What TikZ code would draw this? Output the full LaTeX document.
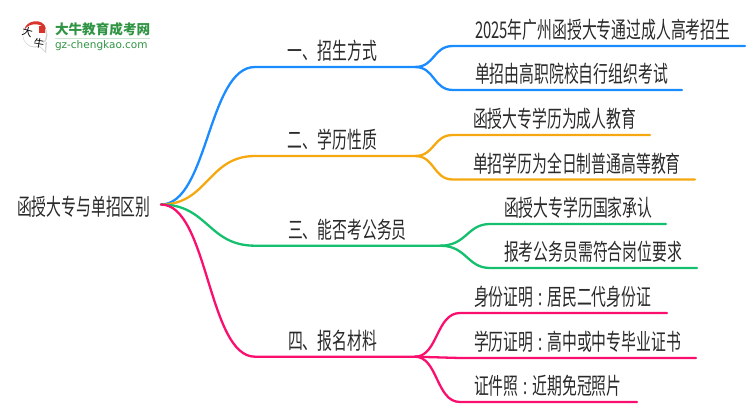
\documentclass[tikz,border=0pt]{standalone}
\usepackage{fontspec}
\newfontfamily\cjk[FakeStretch=0.645]{Noto Sans CJK SC}
\newfontfamily\cjklogo{Noto Sans CJK SC}
\newfontfamily\latinlogo{DejaVu Sans}
\definecolor{cblue}{HTML}{1A8CFF}
\definecolor{corange}{HTML}{F5A80F}
\definecolor{cgreen}{HTML}{14C06E}
\definecolor{cpink}{HTML}{FA0F6E}
\definecolor{ctext}{HTML}{2A2A2A}
\definecolor{logogreen}{HTML}{2F9443}
\definecolor{logored}{HTML}{D8342C}
\newcommand{\cln}{\hspace{5pt}:\hspace{5pt}}
\tikzset{
  lab/.style={inner xsep=0pt,inner ysep=5.5pt,outer sep=0pt,font=\cjk\fontsize{23}{25}\selectfont,text=ctext,anchor=south west,align=left},
  conn/.style={line width=2.3pt,line cap=round,line join=round},
  logot/.style={inner sep=0pt,outer sep=0pt}
}
\begin{document}
\begin{tikzpicture}[x=1pt,y=-1pt]
\useasboundingbox (0,0) rectangle (750,410);
% root
\node[lab,anchor=west,inner ysep=0pt,text width=144pt] (root) at (17,207) {函授大专与单招区别};
\coordinate (hub) at (161,204.5);
% branches
\node[lab,text width=160pt,align=center] (b1) at (255,67) {\hspace*{-5pt}一、招生方式};
\node[lab,text width=160pt,align=center] (b2) at (255,156) {\hspace*{-5pt}二、学历性质};
\node[lab,text width=185pt,align=left] (b3) at (255,245.7) {\hspace*{33pt}三、能否考公务员};
\node[lab,text width=160pt,align=left] (b4) at (255,356.7) {\hspace*{33pt}四、报名材料};
% leaves
\node[lab,text width=292pt] (l11) at (453,46) {\hspace*{22pt}2025年广州函授大专通过成人高考招生};
\node[lab,text width=229pt] (l12) at (453,90) {\hspace*{22pt}单招由高职院校自行组织考试};
\node[lab,text width=197pt] (l21) at (453,135) {\hspace*{20pt}函授大专学历为成人教育};
\node[lab,text width=242pt] (l22) at (453,179.5) {\hspace*{20pt}单招学历为全日制普通高等教育};
\node[lab,text width=176pt] (l31) at (490,224) {\hspace*{14pt}函授大专学历国家承认};
\node[lab,text width=207pt] (l32) at (490,268) {\hspace*{14pt}报考公务员需符合岗位要求};
\node[lab,text width=207pt] (l41) at (460,313) {\hspace*{14pt}身份证明\cln 居民二代身份证};
\node[lab,text width=236pt] (l42) at (460,358) {\hspace*{14pt}学历证明\cln 高中或中专毕业证书};
\node[lab,text width=177pt] (l43) at (460,402) {\hspace*{14pt}证件照\cln 近期免冠照片};
% connectors root -> branches
\draw[conn,cblue] (hub) .. controls (208,204.5) and (208,67) .. (b1.south west) -- (b1.south east);
\draw[conn,corange] (hub) .. controls (208,204.5) and (208,156) .. (b2.south west) -- (b2.south east);
\draw[conn,cgreen] (hub) .. controls (208,204.5) and (208,245.7) .. (b3.south west) -- (b3.south east);
\draw[conn,cpink] (hub) .. controls (208,204.5) and (208,356.7) .. (b4.south west) -- (b4.south east);
% branch -> leaves
\draw[conn,cblue] (b1.south east) .. controls (435,67) and (433,46) .. (l11.south west) -- (l11.south east);
\draw[conn,cblue] (b1.south east) .. controls (435,67) and (433,90) .. (l12.south west) -- (l12.south east);
\draw[conn,corange] (b2.south east) .. controls (435,156) and (433,135) .. (l21.south west) -- (l21.south east);
\draw[conn,corange] (b2.south east) .. controls (435,156) and (433,179.5) .. (l22.south west) -- (l22.south east);
\draw[conn,cgreen] (b3.south east) .. controls (467,245.7) and (467,224) .. (l31.south west) -- (l31.south east);
\draw[conn,cgreen] (b3.south east) .. controls (467,245.7) and (467,268) .. (l32.south west) -- (l32.south east);
\draw[conn,cpink] (b4.south east) .. controls (438,356.7) and (436,313) .. (l41.south west) -- (l41.south east);
\draw[conn,cpink] (b4.south east) -- (l42.south west) -- (l42.south east);
\draw[conn,cpink] (b4.south east) .. controls (438,356.7) and (436,402) .. (l43.south west) -- (l43.south east);
% logo
\fill[black!18] (35,35) circle (12.5pt);
\fill[black!18] (38,45) -- (46,53) -- (47,42) -- cycle;
\fill[white] (34.5,35) circle (11.5pt);
\fill[white] (39,45) -- (45,51) -- (45.5,42) -- cycle;
\fill[logored] (24.5,30) .. controls (25,20) and (44,17) .. (46,29) .. controls (41,23) and (29,22) .. (24.5,30) -- cycle;
\fill[logored] (38.5,25.5) rectangle (45,33);
\node[logot,font=\cjklogo\fontsize{10.5}{11}\selectfont,rotate=-15] (lg1) at (27.5,32) {大};
\node[logot,font=\cjklogo\fontsize{10.5}{11}\selectfont,rotate=-10] (lg2) at (39,43) {牛};
\node[logot,anchor=west,font=\cjklogo\bfseries\fontsize{13.6}{14}\selectfont,text=logogreen] (lg3) at (55,29.5) {大牛教育成考网};
\draw[logogreen!25,line width=1pt] (55,38.5) -- (150,38.5);
\node[logot,anchor=west,font=\latinlogo\fontsize{10.5}{12}\selectfont,text=logogreen] (lg4) at (55,45.5) {gz-chengkao.com};
\end{tikzpicture}
\end{document}
